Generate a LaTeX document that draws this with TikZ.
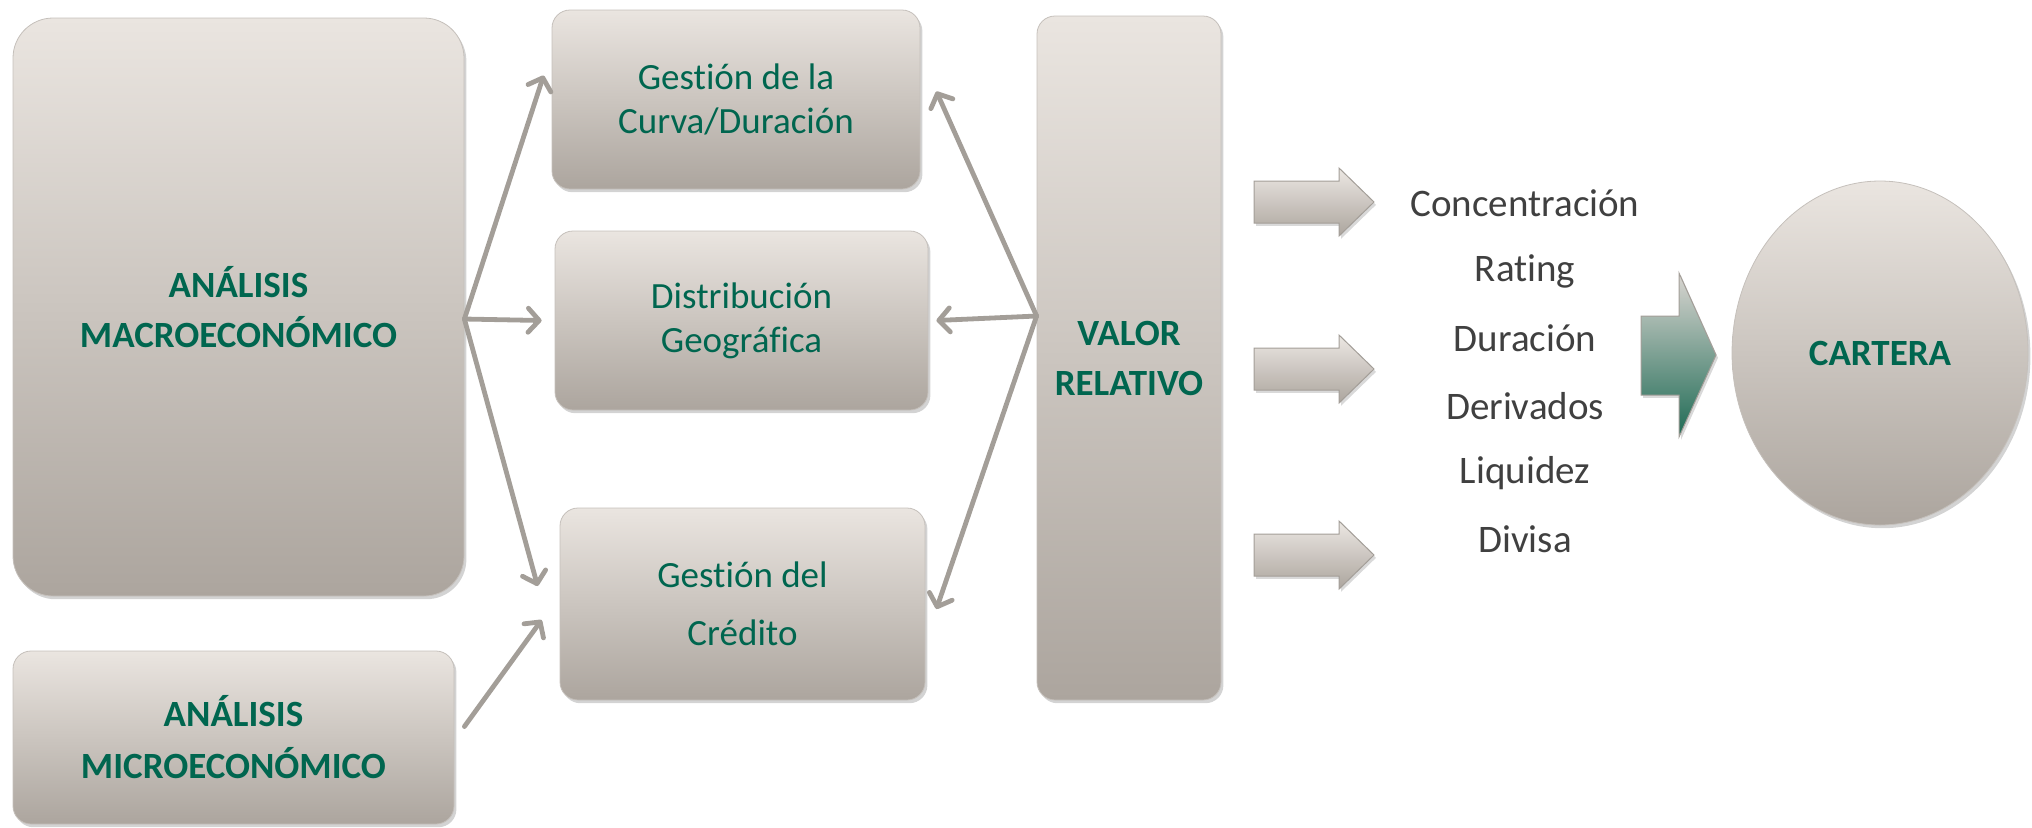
\documentclass[tikz,border=0pt]{standalone}
\usepackage{fontspec}
\setmainfont{Carlito}[Ligatures={NoCommon}]
\usetikzlibrary{arrows.meta,positioning,shadows,shapes.geometric}

\definecolor{txtgreen}{HTML}{00664F}
\definecolor{linegray}{HTML}{A39E98}
\definecolor{paneltop}{HTML}{EAE5E0}
\definecolor{panelbottom}{HTML}{ACA59E}
\definecolor{itemgray}{HTML}{404040}
\definecolor{arrowgreen}{HTML}{1E6A54}

\newcommand\panelfont{\fontsize{18.5}{22}\selectfont}
\newcommand\itemfont{\fontsize{19.5}{23}\selectfont}

\tikzset{
  panel/.style={rounded corners=9pt, top color=paneltop, bottom color=panelbottom,
    draw=panelbottom!70, line width=0.4pt, text=txtgreen, align=center, font=\panelfont,
    drop shadow={shadow xshift=1.2pt, shadow yshift=-1.6pt, opacity=0.35}},
  link/.style={draw=linegray, line width=2.4pt, line cap=round,
    -{Straight Barb[length=5.5pt,width=12pt,round]}},
  item/.style={text=itemgray, font=\itemfont},
  blockarrow/.style={top color=paneltop!90!white, bottom color=panelbottom, draw=linegray,
    line width=0.5pt, drop shadow={shadow xshift=1pt, shadow yshift=-1.4pt, opacity=0.3}}
}

\begin{document}
\begin{tikzpicture}[x=0.5pt, y=-0.5pt]
  \useasboundingbox (0,0) rectangle (2032,827); %Fix picture size

  \node[panel, rounded corners=20pt, minimum width=225.5pt, minimum height=289pt] (macro) at (238.5,307)
    {\textbf{ANÁLISIS}\\[3pt]\textbf{MACROECONÓMICO}}; %Macro analysis
  \node[panel, minimum width=220.5pt, minimum height=86.5pt] (micro) at (233.5,737.5)
    {\textbf{ANÁLISIS}\\[4pt]\textbf{MICROECONÓMICO}}; %Micro analysis

  \node[panel, minimum width=184pt, minimum height=89.5pt] (curva) at (736,99.5)
    {Gestión de la\\Curva/Duración}; %Curve box
  \node[panel, minimum width=186.5pt, minimum height=89.5pt] (distrib) at (741.5,320.5)
    {Distribución\\Geográfica}; %Geographic box
  \node[panel, minimum width=182.5pt, minimum height=96pt] (credito) at (742.5,604)
    {Gestión del\\[7pt]Crédito}; %Credit box

  \node[panel, minimum width=92pt, minimum height=342pt] (valor) at (1129,358)
    {\textbf{VALOR}\\[3pt]\textbf{RELATIVO}}; %Relative value

  \node[panel, ellipse, inner sep=0pt, minimum width=148pt, minimum height=172pt] (cartera) at (1880,353)
    {\textbf{CARTERA}}; %Portfolio

  \node[item] (conc) at (1525,203) {Concentración};
  \node[item] (rating) at (1525,271) {Rating};
  \node[item] (durac) at (1525,338) {Duración};
  \node[item] (deriv) at (1525,406) {Derivados};
  \node[item] (liqui) at (1525,473) {Liquidez};
  \node[item] (divisa) at (1525,539) {Divisa};

  \coordinate (macroout) at ([yshift=-6pt]macro.east); %Macro fan point
  \coordinate (valorout) at ([yshift=21pt]valor.west); %Value fan point

  \draw[link] (macroout) -- ([xshift=-4pt,yshift=12pt]curva.west);
  \draw[link] (macroout) -- ([xshift=-6.5pt]distrib.west);
  \draw[link] (macroout) -- ([xshift=-11pt,yshift=9pt]credito.west);
  \draw[link] ([xshift=5pt,yshift=5.5pt]micro.east) -- ([xshift=-9pt,yshift=-8pt]credito.west);

  \draw[link] (valorout) -- ([xshift=8pt,yshift=4pt]curva.east);
  \draw[link] (valorout) -- ([xshift=4pt]distrib.east);
  \draw[link] (valorout) -- ([xshift=5.5pt,yshift=-2.5pt]credito.east);

  \foreach \y in {202,369,555}{
    \path[blockarrow] (1254,{\y-21}) -- (1339,{\y-21}) -- (1339,{\y-34}) -- (1374,\y)
      -- (1339,{\y+34}) -- (1339,{\y+21}) -- (1254,{\y+21}) -- cycle; %Block arrow
  }

  \path[blockarrow, top color=paneltop!85!gray, bottom color=arrowgreen]
    (1641,316) -- (1679,316) -- (1679,273) -- (1716,355) -- (1679,437)
    -- (1679,395) -- (1641,395) -- cycle; %Arrow to portfolio
\end{tikzpicture}
\end{document}
